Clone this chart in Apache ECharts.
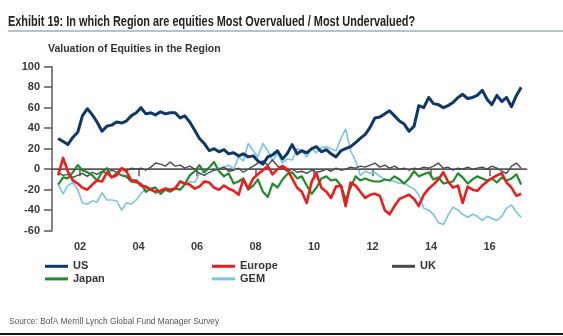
<!DOCTYPE html>
<html>
<head>
<meta charset="utf-8">
<script src="https://cdn.jsdelivr.net/npm/echarts@6/dist/echarts.min.js"></script>
<style>
html,body{margin:0;padding:0;background:#fff;}
#chart{width:563px;height:336px;}
</style>
</head>
<body>
<div id="chart"></div>
<script>
// Sample dates (decimal years, roughly every two months)
const dates = [
  2001.25, 2001.42, 2001.58, 2001.75, 2001.92,
  2002.08, 2002.25, 2002.42, 2002.58, 2002.75, 2002.92,
  2003.08, 2003.25, 2003.42, 2003.58, 2003.75, 2003.92,
  2004.08, 2004.25, 2004.42, 2004.58, 2004.75, 2004.92,
  2005.08, 2005.25, 2005.42, 2005.58, 2005.75, 2005.92,
  2006.08, 2006.25, 2006.42, 2006.58, 2006.75, 2006.92,
  2007.08, 2007.25, 2007.42, 2007.58, 2007.75, 2007.92,
  2008.08, 2008.25, 2008.42, 2008.58, 2008.75, 2008.92,
  2009.08, 2009.25, 2009.42, 2009.58, 2009.75, 2009.92,
  2010.08, 2010.25, 2010.42, 2010.58, 2010.75, 2010.92,
  2011.08, 2011.25, 2011.42, 2011.58, 2011.75, 2011.92,
  2012.08, 2012.25, 2012.42, 2012.58, 2012.75, 2012.92,
  2013.08, 2013.25, 2013.42, 2013.58, 2013.75, 2013.92,
  2014.08, 2014.25, 2014.42, 2014.58, 2014.75, 2014.92,
  2015.08, 2015.25, 2015.42, 2015.58, 2015.75, 2015.92,
  2016.08, 2016.25, 2016.42, 2016.58, 2016.75, 2016.92,
  2017.08
];

const us = [30,27,24,31,36, 52,59,53,46,37,42, 43,46,45,47,52,55, 60,54,55,53,56,54,
  55,55,50,52,46,38, 30,25,18,20,17,19, 15,16,13,15,12,13, 8,5,12,14,18,10,
  15,24,15,18,16,20, 22,17,19,15,12,18, 20,22,26,30,34,41, 50,51,54,57,52,47,
  44,37,42,62,60,70, 64,63,60,62,65,70, 73,69,70,72,77,68, 63,72,66,70,61,72, 80];

const europe = [-6,11,-2,-11,-14, -18,-20,-15,-11,-12,-3, -8,-6,1,-2,-11,-11, -16,-17,-20,-22,-21,-19,
  -20,-19,-12,-14,-15,-19, -17,-12,-13,-18,-20,-16, -19,-21,-25,-10,-19,-9, -5,-1,3,-5,0,3,
  0,-9,-18,-22,-33,-12, -4,-18,-22,-28,-17,-16, -36,-13,-16,-22,-28,-25, -24,-26,-40,-44,-36,-29,
  -27,-25,-29,-36,-25,-19, -15,-10,-3,-12,-18,-16, -33,-17,-20,-21,-16,-12, -9,-6,-4,-13,-18,-26, -24];

const uk = [-3,-6,-5,-8,-6, -4,-7,-3,-5,-2,-4, -1,-3,0,-2,1,0, 1,-1,2,6,5,3,
  7,3,4,1,3,0, -4,-6,-3,-1,0,2, -2,-1,1,-3,0,3, 6,8,4,9,3,1,
  -2,0,-3,-2,-4,-1, -3,-2,0,-2,1,-1, 0,2,1,3,2,4, 6,2,4,1,3,0,
  1,-1,1,0,2,1, 3,6,1,2,-1,1, 0,2,0,1,2,0, 3,1,-2,-4,3,6, 1];

const japan = [-15,-8,-9,-3,4, -1,-3,-6,-11,-3,1, -8,-4,-6,-7,-12,-13, -14,-22,-19,-18,-24,-20,
  -22,-19,-20,-15,-6,-2, 4,-3,2,7,-2,-7, -4,-14,-12,-9,-20,-16, -10,-22,-27,-14,-18,-10,
  -5,-3,-9,-7,-16,-24, -18,-9,-7,-11,-10,-16, -30,-18,-7,-11,-9,-11, -12,-12,-10,-11,-7,-10,
  -14,-9,-2,-7,-5,-3, -10,-8,-14,-13,-12,-4, -8,-14,-10,-7,-9,-11, -9,-13,-8,-11,-9,-5, -15];

const gem = [-15,-24,-16,-13,-20, -33,-34,-31,-32,-23,-30, -30,-31,-40,-33,-34,-30, -24,-19,-19,-24,-20,-18,
  -20,-17,-12,-15,-12,-13, -4,-3,1,-1,1,2, 4,0,12,8,25,18, 12,25,18,8,16,6,
  10,9,20,18,12,20, 16,21,22,20,18,30, 39,18,8,-6,-2,-4, -3,-7,-10,-11,-12,-14,
  -13,-17,-19,-25,-38,-40, -44,-52,-54,-45,-37,-40, -44,-47,-44,-46,-50,-46, -48,-50,-46,-38,-35,-42, -47];

const yearTicks = [2002, 2004, 2006, 2008, 2010, 2012, 2014, 2016];
const yearLabels = ['02', '04', '06', '08', '10', '12', '14', '16'];

const seriesColors = {US: '#0f3768', Europe: '#ee1c1c', UK: '#4a4a4a', Japan: '#1f8b2a', GEM: '#79c3e6'};

function pairs(vals) { return dates.map((d, i) => [d, vals[i]]); }

const chart = echarts.init(document.getElementById('chart'), null, {renderer: 'canvas'});
const labelFont = {fontFamily: 'Liberation Sans, Arial, sans-serif', fontWeight: 'bold', fontSize: 11, color: '#3a3a3a'};

function mkSeries(name, vals, width, z) {
  return {
    name: name, type: 'line', data: pairs(vals), showSymbol: false, symbol: 'none',
    lineStyle: {color: seriesColors[name], width: width, join: 'round'},
    itemStyle: {color: seriesColors[name]},
    z: z, animation: false
  };
}

const series = [
  mkSeries('GEM', gem, 1.6, 2),
  mkSeries('UK', uk, 1.4, 3),
  mkSeries('Japan', japan, 2.2, 4),
  mkSeries('Europe', europe, 2.6, 5),
  mkSeries('US', us, 3, 6)
];
series[1].markLine = {
  silent: true, symbol: ['none', 'none'], label: {show: false},
  lineStyle: {color: '#555', width: 1.2, type: 'solid'},
  data: [{yAxis: 0}], animation: false
};

const legendText = {fontFamily: 'Liberation Sans, Arial, sans-serif', fontWeight: 'bold', fontSize: 11, color: '#333', lineHeight: 12.6};
function mkLegend(data, left) {
  return {
    data: data, orient: 'vertical', left: left, top: 260, itemGap: 0,
    itemWidth: 23, itemHeight: 3, icon: 'rect', textStyle: legendText,
    selectedMode: false, padding: 0
  };
}

chart.setOption({
  animation: false,
  backgroundColor: '#fff',
  grid: {left: 52, right: 36.3, top: 66.7, bottom: 105.3, containLabel: false},
  xAxis: {
    type: 'value', min: 2001.04, max: 2017.27,
    axisLine: {show: true, lineStyle: {color: '#5a5a5a', width: 1.5}},
    axisTick: {show: true, length: 7, customValues: yearTicks, lineStyle: {color: '#5a5a5a', width: 1.5}},
    axisLabel: Object.assign({}, labelFont, {
      customValues: yearTicks, margin: 11,
      formatter: v => yearLabels[yearTicks.indexOf(Math.round(v))] || ''
    }),
    splitLine: {show: false}
  },
  yAxis: {
    type: 'value', min: -60, max: 100, interval: 20,
    axisLine: {show: true, lineStyle: {color: '#5a5a5a', width: 1.5}},
    axisTick: {show: true, length: 8, lineStyle: {color: '#5a5a5a', width: 1.5}},
    axisLabel: Object.assign({}, labelFont, {margin: 12}),
    splitLine: {show: false}
  },
  legend: [
    mkLegend(['US', 'Japan'], 45),
    mkLegend(['Europe', 'GEM'], 212),
    mkLegend(['UK'], 392)
  ],
  graphic: [
    {type: 'text', x: 8, y: 15, scaleX: 0.78, style: {text: 'Exhibit 19: In which Region are equities Most Overvalued / Most Undervalued?',
      font: 'bold 14px "Liberation Sans", Arial, sans-serif', fill: '#222', verticalAlign: 'top'}},
    {type: 'rect', left: 8, top: 30, shape: {width: 555, height: 2}, style: {fill: '#b9c2cc'}},
    {type: 'text', left: 48, top: 44, style: {text: 'Valuation of Equities in the Region',
      font: 'bold 10.5px "Liberation Sans", Arial, sans-serif', fill: '#333'}},
    {type: 'text', x: 9, y: 316, scaleX: 0.88, style: {text: 'Source: BofA Merrill Lynch Global Fund Manager Survey',
      font: '9.5px "Liberation Sans", Arial, sans-serif', fill: '#555', verticalAlign: 'top'}},
    {type: 'rect', left: 0, top: 333, shape: {width: 563, height: 2}, style: {fill: '#111'}}
  ],
  series: series
});
</script>
</body>
</html>
